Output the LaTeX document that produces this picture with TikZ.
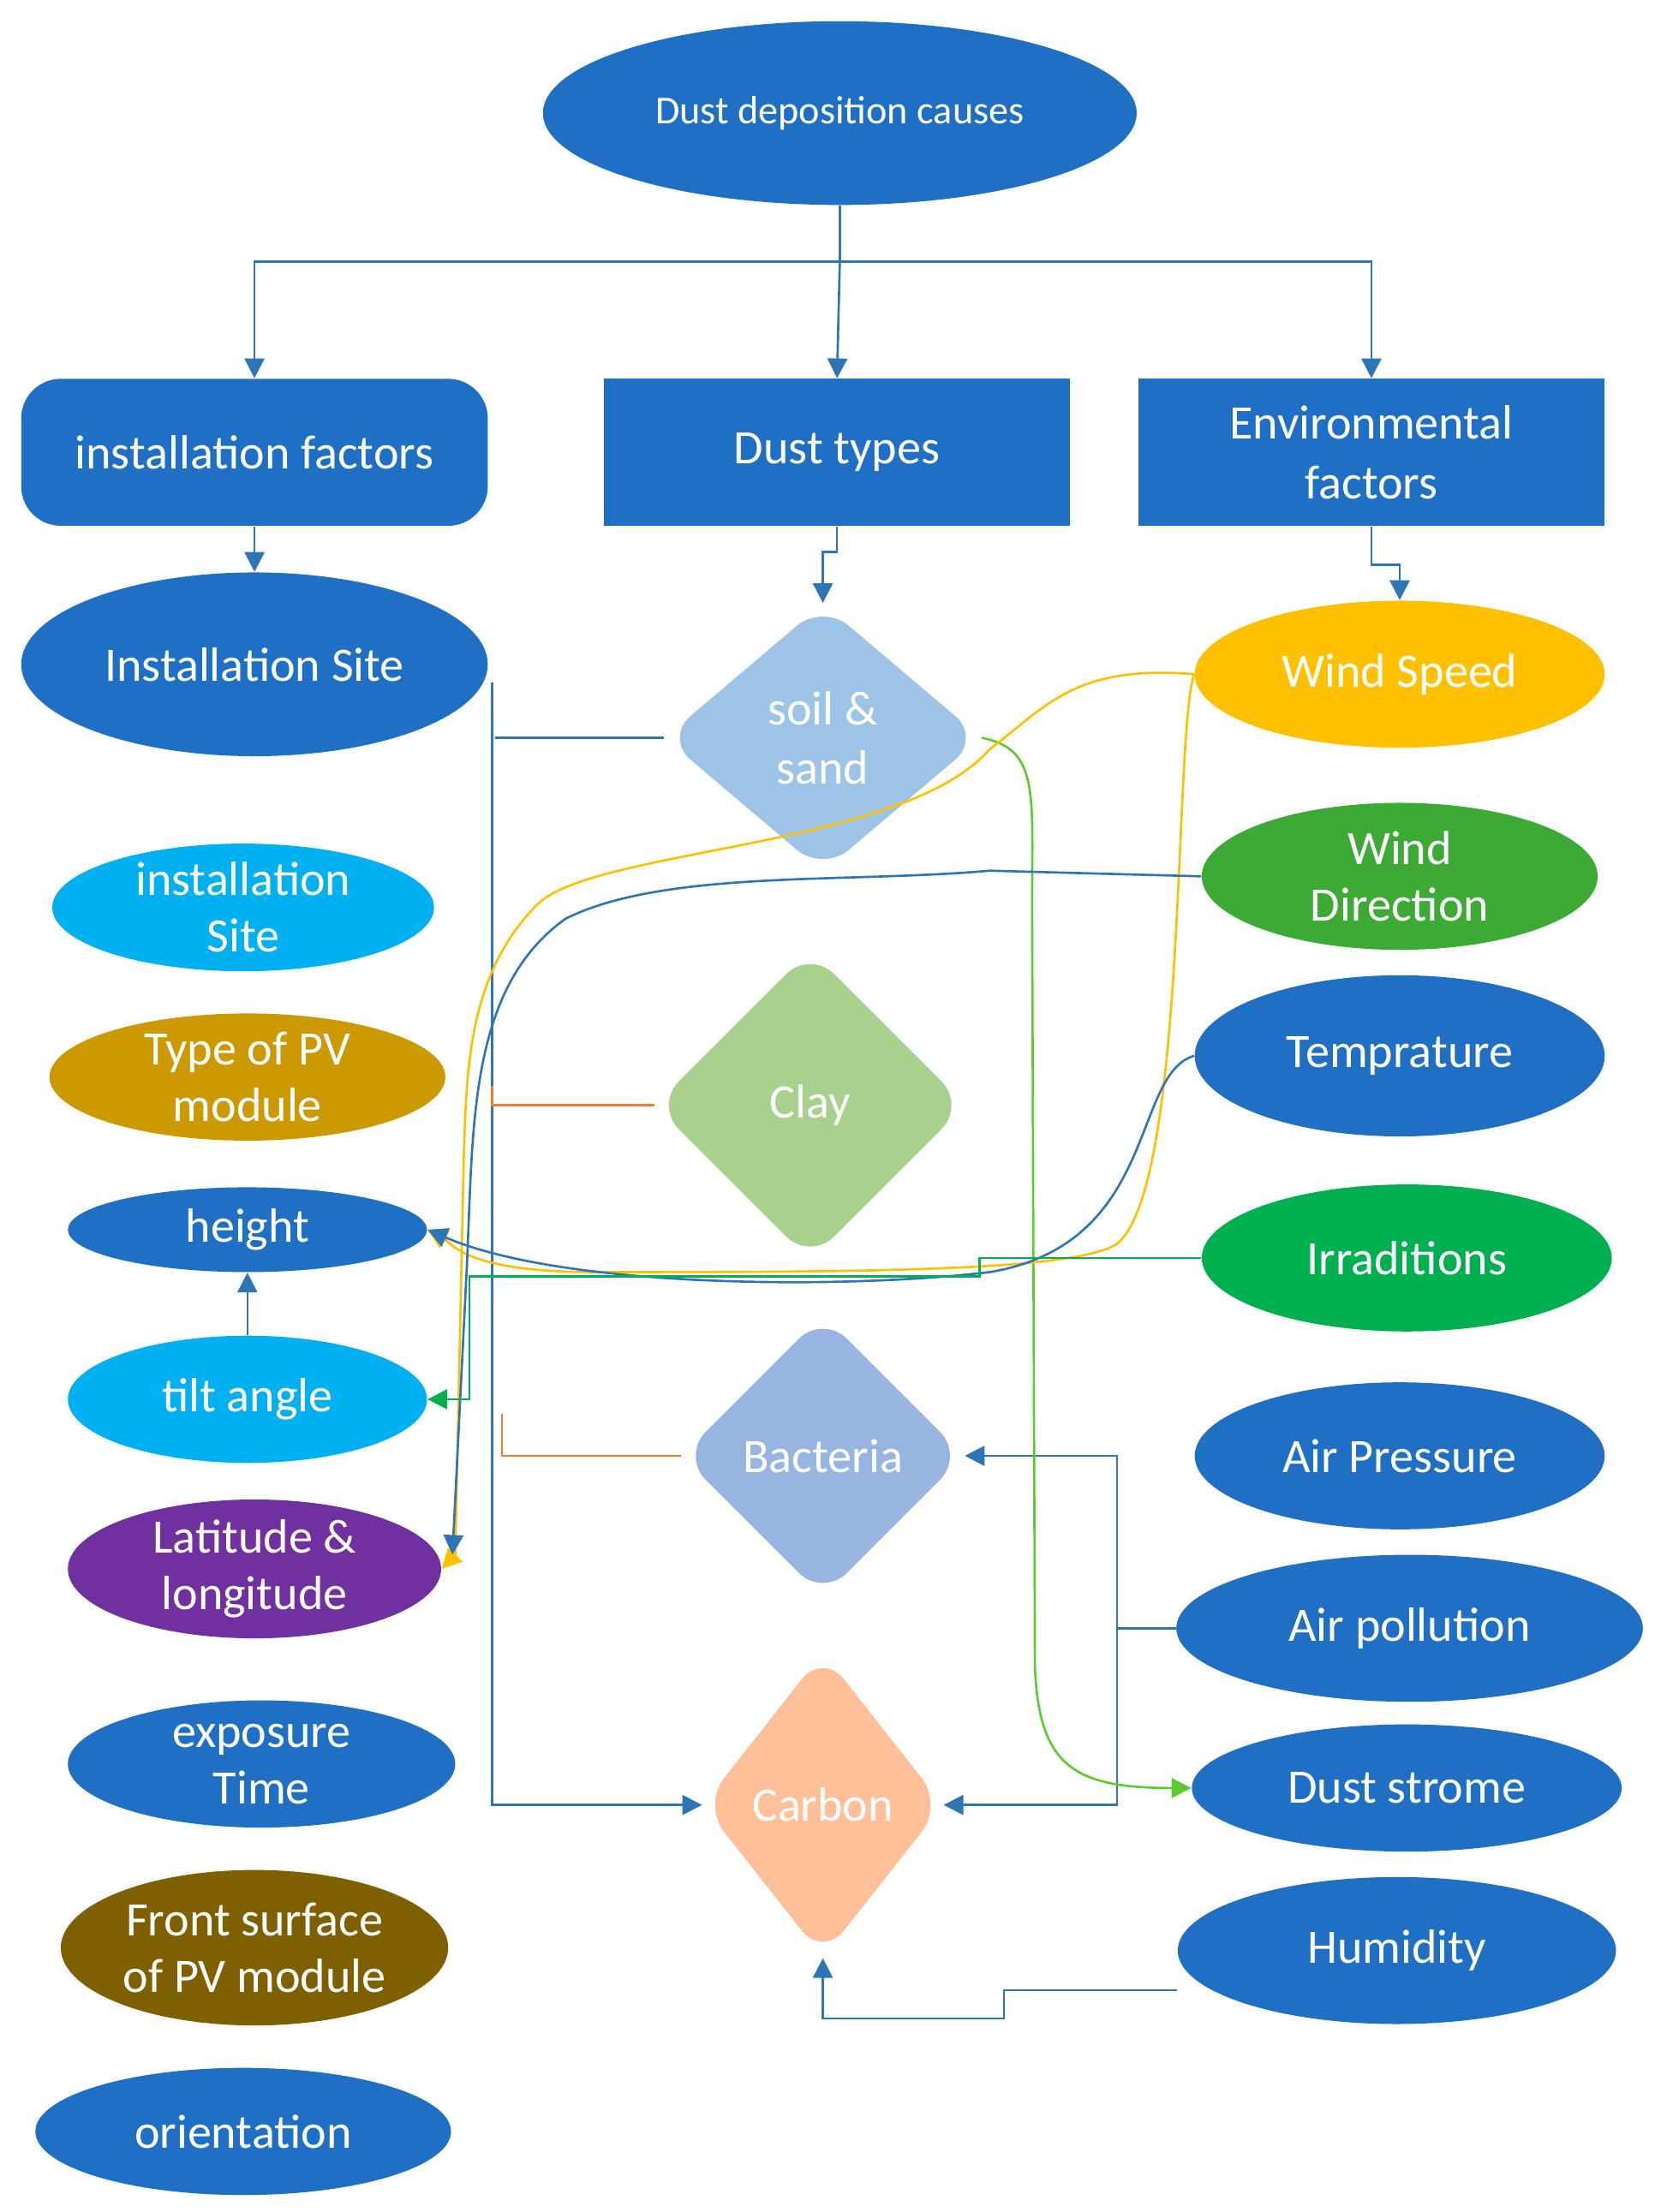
\documentclass[tikz,border=0pt]{standalone}
\usepackage{fontspec}
\setmainfont{Carlito}
\usetikzlibrary{shapes.geometric,arrows.meta}
\definecolor{mblue}{HTML}{1F6FC4}
\definecolor{lblue}{HTML}{2E75B6}
\definecolor{cyanb}{HTML}{00B0F0}
\definecolor{gold}{HTML}{CC9900}
\definecolor{ybright}{HTML}{FFC000}
\definecolor{gwind}{HTML}{3DAA35}
\definecolor{girr}{HTML}{00B050}
\definecolor{purp}{HTML}{7030A0}
\definecolor{brown}{HTML}{7F6000}
\definecolor{soil}{HTML}{9DC3E6}
\definecolor{clay}{HTML}{A9D18E}
\definecolor{bact}{HTML}{98B4E0}
\definecolor{carb}{HTML}{FFBF99}
\definecolor{lgreen}{HTML}{5CCB2F}
\definecolor{orng}{HTML}{ED7D31}
\tikzset{
  ell/.style={ellipse, fill=#1, text=white, inner sep=0pt, align=center,
    font=\fontsize{17}{20}\selectfont},
  box/.style={rectangle, fill=mblue, text=white, align=center,
    font=\fontsize{17}{21}\selectfont},
  dia/.style={diamond, fill=#1, text=white, inner sep=0pt, rounded corners=12pt,
    align=center, font=\fontsize{17}{21}\selectfont},
  link/.style={lblue, thick},
  arr/.style={link, -{Triangle[width=7pt,length=7pt]}}
}
\begin{document}
\begin{tikzpicture}[x=0.5pt,y=-0.5pt]
\useasboundingbox (0,0) rectangle (1170,1565);
% top
\node[ell=mblue, minimum width=210pt, minimum height=65pt, font=\fontsize{14}{16}\selectfont] (cause) at (594,80) {Dust deposition causes};
\node[box, rounded corners=14pt, minimum width=165pt, minimum height=52pt] (inst) at (180,320) {installation factors};
\node[box, minimum width=165pt, minimum height=52pt] (types) at (592,320) {Dust types};
\node[box, minimum width=165pt, minimum height=52pt] (env) at (970,320) {Environmental\\factors};
% left column
\node[ell=mblue, minimum width=165pt, minimum height=65pt] (site) at (180,470) {Installation Site};
\node[ell=cyanb, minimum width=135pt, minimum height=45pt] (site2) at (172,642) {installation\\Site};
\node[ell=gold, minimum width=140pt, minimum height=45pt] (pvtype) at (175,762) {Type of PV\\module};
\node[ell=mblue, minimum width=127pt, minimum height=30pt] (height) at (175,870) {height};
\node[ell=cyanb, minimum width=127pt, minimum height=45pt] (tilt) at (175,990) {tilt angle};
\node[ell=purp, minimum width=132pt, minimum height=45pt] (latlong) at (180,1110) {Latitude \&\\longitude};
\node[ell=mblue, minimum width=137pt, minimum height=45pt] (expo) at (185,1248) {exposure\\Time};
\node[ell=brown, minimum width=137pt, minimum height=55pt] (front) at (180,1378) {Front surface\\of PV module};
\node[ell=mblue, minimum width=147pt, minimum height=45pt] (orient) at (172,1508) {orientation};
% dust types
\node[dia=soil, minimum width=112pt, minimum height=95pt] (soil) at (582,522) {soil \&\\sand};
\node[dia=clay, minimum width=110pt, minimum height=110pt] (clay) at (573,782) {Clay};
\node[dia=bact, minimum width=100pt, minimum height=100pt] (bact) at (582,1030) {Bacteria};
\node[dia=carb, minimum width=85pt, minimum height=108pt] (carbon) at (582,1277) {Carbon};
% environment
\node[ell=ybright, minimum width=145pt, minimum height=52pt] (wspeed) at (990,477) {Wind Speed};
\node[ell=gwind, minimum width=140pt, minimum height=52pt] (wdir) at (990,620) {Wind\\Direction};
\node[ell=mblue, minimum width=145pt, minimum height=57pt] (temp) at (990,747) {Temprature};
\node[ell=girr, minimum width=145pt, minimum height=52pt] (irr) at (995,890) {Irraditions};
\node[ell=mblue, minimum width=145pt, minimum height=52pt] (press) at (990,1030) {Air Pressure};
\node[ell=mblue, minimum width=165pt, minimum height=52pt] (poll) at (997,1152) {Air pollution};
\node[ell=mblue, minimum width=152pt, minimum height=45pt] (storm) at (995,1265) {Dust strome};
\node[ell=mblue, minimum width=155pt, minimum height=52pt] (humid) at (988,1380) {Humidity};
% tree
\draw[link] (cause.south) -- (594,185) coordinate (split);
\draw[arr] (split) -| (inst.north);
\draw[arr] (split) -- (types.north);
\draw[arr] (split) -| (env.north);
\draw[arr] (inst.south) -- (site.north);
\draw[arr] (types.south) -- ++(0,18) -| (soil.north);
\draw[arr] (env.south) -- ++(0,27) -| (wspeed.north);
\draw[arr] (tilt.north) -- (height.south);
% dust type links
\coordinate (vtop) at (348,483);
\draw[arr] (vtop) |- (carbon.west);
\draw[link] (soil.west) -- (350,522);
\draw[orng, thick] (clay.west) -- (348,782) -- (348,768);
\draw[orng, thick] (bact.west) -- (355,1030) -- (355,1000);
\draw[link] (poll.west) -- (790,1152) coordinate (pv);
\draw[arr] (790,1152) |- (bact.east);
\draw[arr] (790,1152) |- (carbon.east);
\draw[arr] (humid.west) ++(0,28) -- (710,1408) -- (710,1428) -| (carbon.south);
\draw[lgreen, thick, -{Triangle[width=7pt,length=7pt]}] (soil.east) .. controls (735,530) and (730,560) .. (730,640) -- (732,1180) .. controls (735,1250) and (760,1265) .. (storm.west);
% environment links
\draw[ybright, thick, -{Triangle[width=7pt,length=7pt]}] (wspeed.west) .. controls (760,470) and (740,500) .. (700,530) .. controls (640,600) and (420,600) .. (380,640) .. controls (330,690) and (330,760) .. (328,820) -- (322,1100) -- (latlong.east);
\draw[ybright, thick, -{Triangle[width=7pt,length=7pt]}] (wspeed.west) .. controls (830,520) and (840,840) .. (790,880) .. controls (760,900) and (600,900) .. (420,900) .. controls (330,900) and (320,880) .. (height.east);
\draw[lblue, thick, -{Triangle[width=7pt,length=7pt]}] (wdir.west) -- (700,616) .. controls (600,625) and (470,615) .. (400,650) .. controls (330,700) and (335,800) .. (330,900) -- (320,1100);
\draw[lblue, thick, -{Triangle[width=7pt,length=7pt]}] (temp.west) .. controls (800,760) and (820,880) .. (700,900) .. controls (600,912) and (400,912) .. (height.east);
\draw[girr, thick, -{Triangle[width=7pt,length=7pt]}] (irr.west) -- (693,890) -- (693,903) -- (332,903) |- (tilt.east);
\end{tikzpicture}
\end{document}
